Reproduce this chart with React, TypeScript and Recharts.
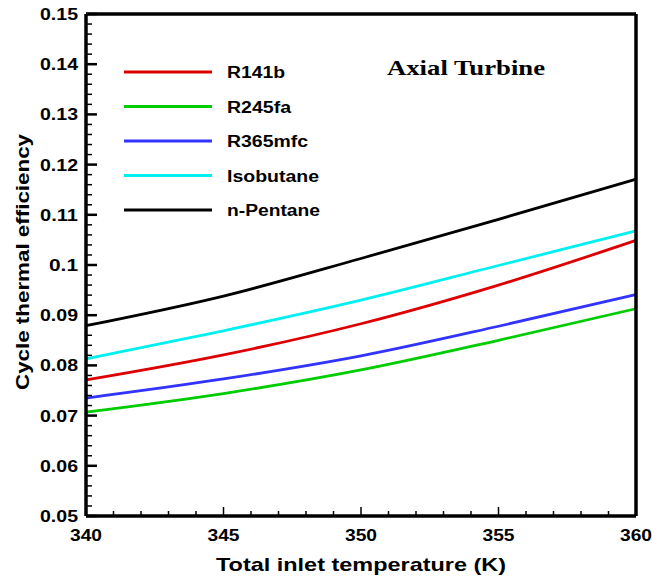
import { LineChart, Line, XAxis, YAxis, Legend, Label, ReferenceLine } from 'recharts'

// inlet temperature (K)
const temps = [340, 345, 350, 355, 360]

// cycle thermal efficiency for each working fluid
const r141b = [0.0771, 0.0821, 0.0883, 0.096, 0.1049]
const r245fa = [0.0707, 0.0744, 0.0791, 0.085, 0.0913]
const r365mfc = [0.0735, 0.0773, 0.0819, 0.0878, 0.0941]
const isobutane = [0.0813, 0.0869, 0.093, 0.0999, 0.1068]
const nPentane = [0.0879, 0.0938, 0.1013, 0.1091, 0.1171]

const xTicks = [340, 341, 342, 343, 344, 345, 346, 347, 348, 349, 350, 351, 352, 353, 354, 355, 356, 357, 358, 359, 360]
const yTicks = Array.from({ length: 51 }, (_, i) => Math.round((0.05 + i * 0.002) * 1000) / 1000)

const series = [
  { key: 'r141b', name: 'R141b', color: '#dd0000', values: r141b, labelWidth: 58 },
  { key: 'r245fa', name: 'R245fa', color: '#00cc00', values: r245fa, labelWidth: 64 },
  { key: 'r365mfc', name: 'R365mfc', color: '#3333ff', values: r365mfc, labelWidth: 81 },
  { key: 'isobutane', name: 'Isobutane', color: '#00f0f0', values: isobutane, labelWidth: 92 },
  { key: 'nPentane', name: 'n-Pentane', color: '#000000', values: nPentane, labelWidth: 93 },
]

const data = temps.map((t, i) => {
  const row: Record<string, number> = { t }
  series.forEach((s) => { row[s.key] = s.values[i] })
  return row
})

const FONT = '"Liberation Sans", Arial, sans-serif'

const XTick = (props: any) => {
  const { x, y, payload } = props
  const v = payload.value
  const major = v % 5 === 0
  return (
    <g>
      <line x1={x} x2={x} y1={y} y2={y - (major ? 9 : 5)} stroke="#000" strokeWidth={1.5} />
      {/* right frame drawn with the last tick */}
      {v === 360 && <line x1={x} x2={x} y1={y} y2={14} stroke="#000" strokeWidth={3.5} />}
      {major && (
        <text x={x} y={y + 25} textAnchor="middle" fontFamily={FONT} fontWeight="bold" fontSize={16}
          textLength={32} lengthAdjust="spacingAndGlyphs" fill="#000">
          {v}
        </text>
      )}
    </g>
  )
}

const YTick = (props: any) => {
  const { x, y, payload } = props
  const v = payload.value
  const major = Math.abs(v * 100 - Math.round(v * 100)) < 1e-6
  const label = String(Math.round(v * 100) / 100)
  return (
    <g>
      <line x1={x} x2={x + (major ? 11 : 6)} y1={y} y2={y} stroke="#000" strokeWidth={major ? 2.5 : 1.5} />
      {major && (
        <text x={x - 8} y={y + 6} textAnchor="end" fontFamily={FONT} fontWeight="bold" fontSize={16}
          textLength={label.length === 4 ? 38 : 29} lengthAdjust="spacingAndGlyphs" fill="#000">
          {label}
        </text>
      )}
    </g>
  )
}

const LegendBox = () => (
  <svg width={200} height={170}>
    {series.map((s, i) => (
      <g key={s.key} transform={`translate(0, ${10 + i * 34.5})`}>
        <line x1={0} x2={88} y1={0} y2={0} stroke={s.color} strokeWidth={3} />
        <text x={103} y={6} fontFamily={FONT} fontWeight="bold" fontSize={16}
          textLength={s.labelWidth} lengthAdjust="spacingAndGlyphs" fill="#000">
          {s.name}
        </text>
      </g>
    ))}
  </svg>
)

export default function App() {
  return (
    <div style={{ position: 'absolute', left: 0, top: 0, width: 652, height: 580, background: '#fff' }}>
      <LineChart width={652} height={580} data={data} margin={{ top: 14, right: 16, bottom: 0, left: 0 }}>
        <XAxis xAxisId="b" dataKey="t" type="number" domain={[340, 360]} ticks={xTicks} interval={0}
          height={64} tickSize={0} tickMargin={0} tickLine={false} tick={XTick}
          axisLine={{ stroke: '#000', strokeWidth: 3.5 }}>
          <Label content={({ viewBox }: any) => (
            <text x={viewBox.x + viewBox.width / 2} y={571} textAnchor="middle" fontFamily={FONT}
              fontWeight="bold" fontSize={19} textLength={290} lengthAdjust="spacingAndGlyphs" fill="#000">
              Total inlet temperature (K)
            </text>
          )} />
        </XAxis>
        <YAxis yAxisId="l" type="number" domain={[0.05, 0.15]} ticks={yTicks} interval={0} width={86}
          tickSize={0} tickMargin={0} tickLine={false} tick={YTick}
          axisLine={{ stroke: '#000', strokeWidth: 3.5 }}>
          <Label content={() => {
            const cy = 262
            return (
              <text x={29} y={cy} transform={`rotate(-90, 29, ${cy})`} textAnchor="middle" fontFamily={FONT}
                fontWeight="bold" fontSize={19} textLength={256} lengthAdjust="spacingAndGlyphs" fill="#000">
                Cycle thermal efficiency
              </text>
            )
          }} />
        </YAxis>
        {series.map((s) => (
          <Line key={s.key} xAxisId="b" yAxisId="l" type="monotone" dataKey={s.key} name={s.name}
            stroke={s.color} strokeWidth={2.8} dot={false} activeDot={false} isAnimationActive={false} />
        ))}
        {/* top frame */}
        <ReferenceLine xAxisId="b" yAxisId="l" y={0.15} stroke="#000" strokeWidth={3.5} ifOverflow="visible" />
        <Legend layout="horizontal" verticalAlign="middle" align="center" content={LegendBox}
          wrapperStyle={{ left: 124, top: 62, width: 200, height: 170 }} />
      </LineChart>
      <svg width={652} height={580} style={{ position: 'absolute', left: 0, top: 0, pointerEvents: 'none' }}>
        <text x={387} y={75} fontFamily='"Liberation Serif", "Times New Roman", serif' fontWeight="bold"
          fontSize={21} textLength={158} lengthAdjust="spacingAndGlyphs" fill="#000">
          Axial Turbine
        </text>
      </svg>
    </div>
  )
}
